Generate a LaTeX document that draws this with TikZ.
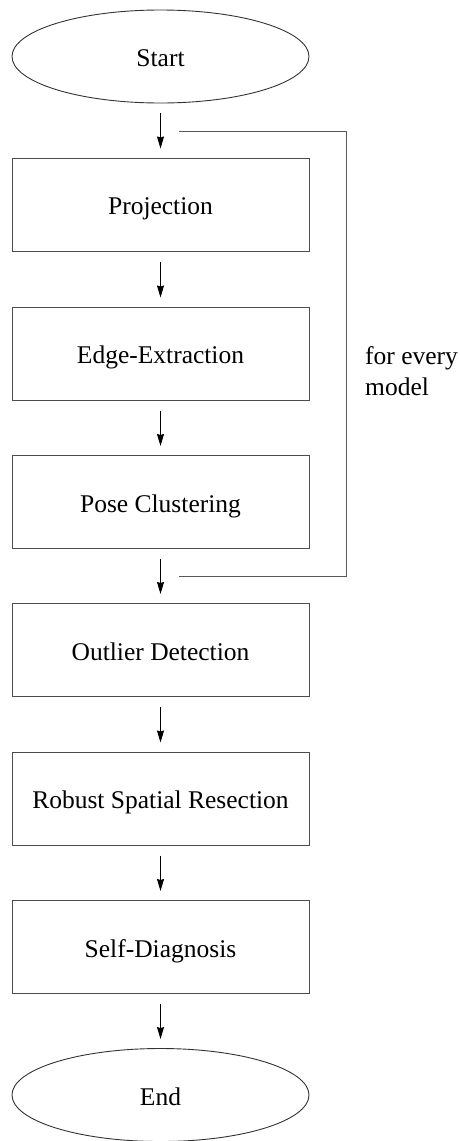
\documentclass[tikz,border=0pt]{standalone}
\usepackage{fontspec}
\setmainfont{Liberation Serif}
\usetikzlibrary{shapes.geometric,arrows.meta}
\begin{document}
\begin{tikzpicture}[x=1pt,y=-1pt,
  every node/.style={font=\fontsize{25.5}{31}\selectfont},
  terminal/.style={ellipse,draw=black!80,line width=0.9pt,minimum width=297pt,minimum height=93pt,inner sep=0pt,text height=20pt,text depth=0pt},
  stepbox/.style={rectangle,draw=black!70,line width=1pt,minimum width=297pt,minimum height=93pt,inner sep=0pt,text height=20pt,text depth=0pt},
  flow/.style={draw=black,line width=0.9pt,-{Stealth[length=12pt,width=7pt,inset=1pt]},shorten <=10pt,shorten >=9pt},
  loopline/.style={draw=black!65,line width=1pt}]
\useasboundingbox (0,0) rectangle (459,1141);

\node[terminal] (start) at (160.5,56.5) {Start};
\node[stepbox] (proj) at (160.5,204.5) {Projection};
\node[stepbox] (edge) at (160.5,353.5) {Edge-Extraction};
\node[stepbox] (pose) at (160.5,502) {Pose Clustering};
\node[stepbox] (outl) at (160.5,650) {Outlier Detection};
\node[stepbox] (robu) at (160.5,798.5) {Robust Spatial Resection};
\node[stepbox] (diag) at (160.5,947) {Self-Diagnosis};
\node[terminal] (end) at (160.5,1095) {End};

\draw[flow] (start.south) -- (proj.north);
\draw[flow] (proj.south) -- (edge.north);
\draw[flow] (edge.south) -- (pose.north);
\draw[flow] (pose.south) -- (outl.north);
\draw[flow] (outl.south) -- (robu.north);
\draw[flow] (robu.south) -- (diag.north);
\draw[flow] (diag.south) -- (end.north);

% loop bracket around the per-model steps
\coordinate (ltop) at (179,131);
\coordinate (rtop) at (346,131);
\coordinate (rbot) at (346,576);
\coordinate (lbot) at (179,576);
\draw[loopline] (ltop) -- (rtop) -- (rbot) -- (lbot);

\node[anchor=north west,inner sep=0pt,align=left] (loopnote) at (365,346) {for every\\model};
\end{tikzpicture}
\end{document}
